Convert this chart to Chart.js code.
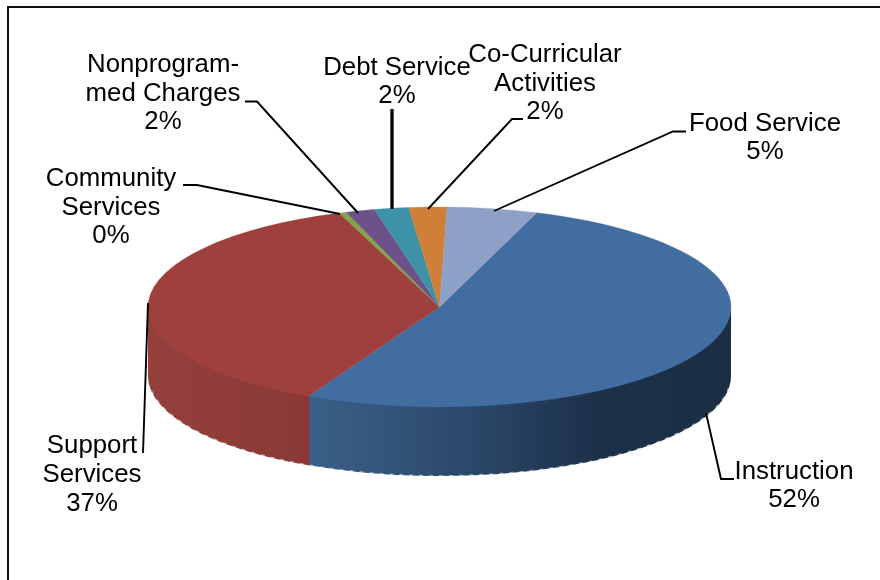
<!DOCTYPE html>
<html>
<head>
<meta charset="utf-8">
<style>
    html, body { margin: 0; padding: 0; background: #fff; overflow: hidden; }
    canvas { display: block; }
</style>
<script src="https://cdn.jsdelivr.net/npm/chart.js@4/dist/chart.umd.min.js"></script>
</head>
<body>
<canvas id="chart-pie" width="880" height="580"></canvas>
<script>
const categories = ['Instruction', 'Support Services', 'Community Services', 'Nonprogrammed Charges', 'Debt Service', 'Co-Curricular Activities', 'Food Service'];
const shares     = [52, 37, 0.4, 1.6, 1.9, 2.1, 5];
const labelLines = [
    ['Instruction'],
    ['Support', 'Services'],
    ['Community', 'Services'],
    ['Nonprogram-', 'med Charges'],
    ['Debt Service'],
    ['Co-Curricular', 'Activities'],
    ['Food Service'],
];
const topColors  = ['#426da0', '#9e413e', '#84a24a', '#6c5288', '#3d92a8', '#d07f38', '#8da1c6'];

// gradient stops for the rim of the slices that face the viewer
const rimStops = {
    0: [[0, '#3a6088'], [0.4, '#2b4768'], [0.68, '#1c3049'], [1, '#1b2e46']],
    1: [[0, '#94403c'], [1, '#8a3935']],
};

// x, y of first baseline, line height, then the leader polyline
const labelLayout = [
    { x: 794, y: 479, lh: 28,   leader: [[706, 413], [721, 479], [734, 479]] },
    { x: 92,  y: 453, lh: 29,   leader: [[148, 303], [143, 453]] },
    { x: 111, y: 186, lh: 28.5, leader: [[340, 214], [197, 185], [183, 185]] },
    { x: 163, y: 72,  lh: 28.5, leader: [[358, 213], [257, 101.5], [245, 101.5]] },
    { x: 397, y: 75,  lh: 28,   leader: [[392, 209], [392, 109]], width: 3.3 },
    { x: 545, y: 62,  lh: 28.5, leader: [[428, 209], [512, 119], [523, 119]] },
    { x: 765, y: 131, lh: 28,   leader: [[494, 211], [673, 131.5], [686, 131.5]] },
];

const PIE_X = 439.5, PIE_Y = 307, RADIUS = 291.5, TILT = 100 / 291.5, DEPTH = 69;
const total = shares.reduce((a, b) => a + b, 0);

const pie3d = {
    id: 'pie3d',
    beforeDraw(chart) {
        // frame runs off the right and bottom of the picture
        const ctx = chart.ctx;
        ctx.save();
        ctx.strokeStyle = '#111';
        ctx.lineWidth = 2;
        ctx.beginPath();
        ctx.moveTo(8, 580);
        ctx.lineTo(8, 7);
        ctx.lineTo(880, 7);
        ctx.stroke();
        ctx.restore();
    },
    beforeDatasetsDraw(chart) {
        const ctx = chart.ctx;
        const arcs = chart.getDatasetMeta(0).data;
        const ry = RADIUS * TILT;

        arcs.forEach((arc, i) => {
            // small overlap so the two rim pieces meet without a pale line
            const a0 = Math.max(norm(arc.startAngle) - 0.004, 0);
            const a1 = Math.min(norm(arc.startAngle) + (arc.endAngle - arc.startAngle), Math.PI);
            if (a1 <= a0 || !rimStops[i]) return;
            const xa = PIE_X + RADIUS * Math.cos(a0), xb = PIE_X + RADIUS * Math.cos(a1);
            const grad = ctx.createLinearGradient(xb, 0, xa, 0);
            for (const [p, c] of rimStops[i]) grad.addColorStop(p, c);
            // upper edge sits a little under the top face so no seam shows
            ctx.beginPath();
            ctx.ellipse(PIE_X, PIE_Y - 2, RADIUS, ry, 0, a0, a1);
            ctx.ellipse(PIE_X, PIE_Y + DEPTH, RADIUS, ry, 0, a1, a0, true);
            ctx.closePath();
            ctx.fillStyle = grad;
            ctx.fill();
        });

        // rough pale edge along the bottom of the rim
        ctx.save();
        ctx.beginPath();
        ctx.ellipse(PIE_X, PIE_Y + DEPTH, RADIUS, ry, 0, 0.12, Math.PI - 0.12);
        ctx.setLineDash([4, 6]);
        ctx.lineWidth = 2;
        ctx.strokeStyle = 'rgba(255,255,255,.55)';
        ctx.stroke();
        ctx.restore();

        // squash the flat pie into the tilted top face
        ctx.save();
        ctx.translate(PIE_X, PIE_Y);
        ctx.scale(1, TILT);
        ctx.translate(-arcs[0].x, -arcs[0].y);
    },
    afterDatasetsDraw(chart) {
        chart.ctx.restore();
    },
    afterDraw(chart) {
        const ctx = chart.ctx;
        ctx.save();
        ctx.strokeStyle = '#000';
        labelLayout.forEach(l => {
            ctx.lineWidth = l.width || 1.9;
            ctx.beginPath();
            l.leader.forEach(([x, y], j) => j ? ctx.lineTo(x, y) : ctx.moveTo(x, y));
            ctx.stroke();
        });
        ctx.fillStyle = '#000';
        ctx.font = '25.8px "Liberation Sans", Arial, sans-serif';
        ctx.textAlign = 'center';
        ctx.textBaseline = 'alphabetic';
        labelLayout.forEach((l, i) => {
            const lines = [...labelLines[i], Math.round(shares[i] / total * 100) + '%'];
            lines.forEach((t, j) => ctx.fillText(t, l.x, l.y + j * l.lh));
        });
        ctx.restore();
    },
};

function norm(a) {
    const t = Math.PI * 2;
    let v = a % t;
    if (v < -Math.PI / 2) v += t;
    return v;
}

new Chart(document.getElementById('chart-pie'), {
    type: 'pie',
    data: {
        labels: categories,
        datasets: [{
            data: shares,
            backgroundColor: topColors,
            borderColor: topColors,
            borderWidth: 0.5,
            clip: 60,
        }],
    },
    options: {
        responsive: false,
        animation: false,
        events: [],
        rotation: 19.5,
        radius: RADIUS,
        layout: { padding: 0 },
        plugins: { legend: { display: false }, tooltip: { enabled: false } },
    },
    plugins: [pie3d],
});
</script>
</body>
</html>
